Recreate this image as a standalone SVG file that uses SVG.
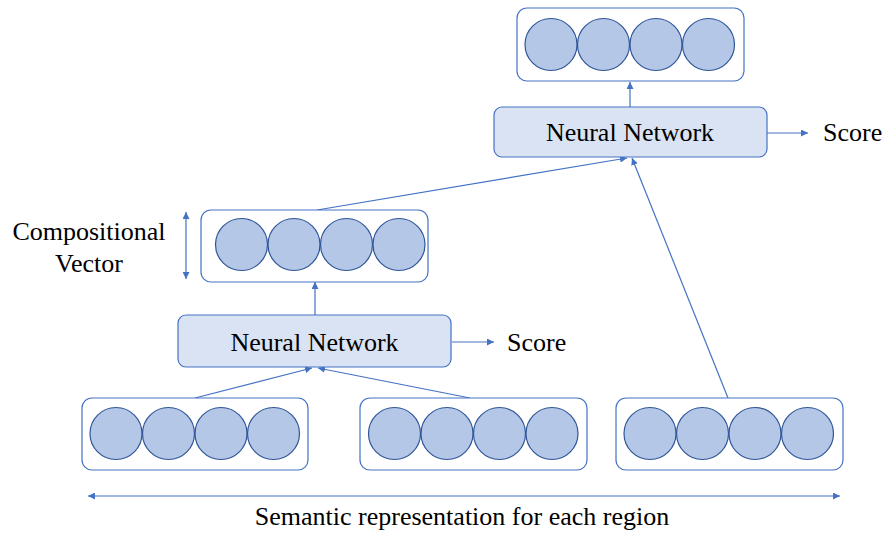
<svg xmlns="http://www.w3.org/2000/svg" width="886" height="535" viewBox="0 0 886 535">
<style>
.vec{fill:#fff;stroke:#4472c4;stroke-width:1.2}
.nn{fill:#dae3f3;stroke:#4472c4;stroke-width:1.2}
.c{fill:#b4c7e7;stroke:#2f5597;stroke-width:1.2}
.ln{stroke:#4472c4;stroke-width:1.2;fill:none}
.t{font-family:'Liberation Serif','DejaVu Serif',serif;font-size:26px;fill:#000}
</style>
<defs>
<marker id="ah" viewBox="0 0 10 10" refX="10" refY="5" markerWidth="7" markerHeight="7" markerUnits="userSpaceOnUse" orient="auto-start-reverse">
<path d="M0,0 L10,5 L0,10 z" fill="#4472c4"/>
</marker>
</defs>
<rect width="886" height="535" fill="#fff"/>
<g id="connectors">
<line class="ln" x1="630" y1="107" x2="630" y2="82" marker-end="url(#ah)"/>
<line class="ln" x1="767" y1="133" x2="808" y2="133" marker-end="url(#ah)"/>
<line class="ln" x1="315" y1="315" x2="315" y2="282" marker-end="url(#ah)"/>
<line class="ln" x1="452" y1="342" x2="494" y2="342" marker-end="url(#ah)"/>
<line class="ln" x1="195" y1="398" x2="312" y2="368" marker-end="url(#ah)"/>
<line class="ln" x1="470" y1="398" x2="318" y2="368" marker-end="url(#ah)"/>
<line class="ln" x1="317" y1="210" x2="627" y2="158" marker-end="url(#ah)"/>
<line class="ln" x1="728" y1="398" x2="632" y2="158" marker-end="url(#ah)"/>
<line class="ln" x1="186" y1="212" x2="186" y2="279" marker-start="url(#ah)" marker-end="url(#ah)"/>
<line class="ln" x1="88" y1="496" x2="840" y2="496" marker-start="url(#ah)" marker-end="url(#ah)"/>
</g>
<g id="top-vector">
<rect class="vec" x="517" y="8" width="227" height="73" rx="10"/>
<circle class="c" cx="551" cy="44.5" r="26"/>
<circle class="c" cx="603.5" cy="44.5" r="26"/>
<circle class="c" cx="656" cy="44.5" r="26"/>
<circle class="c" cx="708.5" cy="44.5" r="26"/>
</g>
<g id="top-nn">
<rect class="nn" x="494" y="107" width="273" height="50" rx="8"/>
<text class="t" x="630" y="141" text-anchor="middle">Neural Network</text>
</g>
<g id="top-score"><text class="t" x="823" y="141">Score</text></g>
<g id="comp-vector">
<rect class="vec" x="201" y="210" width="227" height="72" rx="10"/>
<circle class="c" cx="241.5" cy="244.5" r="26"/>
<circle class="c" cx="294" cy="244.5" r="26"/>
<circle class="c" cx="346.5" cy="244.5" r="26"/>
<circle class="c" cx="399" cy="244.5" r="26"/>
</g>
<g id="comp-label">
<text class="t" x="89" y="240" text-anchor="middle">Compositional</text>
<text class="t" x="89" y="272" text-anchor="middle">Vector</text>
</g>
<g id="low-nn">
<rect class="nn" x="178" y="315" width="273" height="52" rx="8"/>
<text class="t" x="314.5" y="351" text-anchor="middle">Neural Network</text>
</g>
<g id="low-score"><text class="t" x="507" y="351">Score</text></g>
<g id="region1">
<rect class="vec" x="82" y="398" width="226" height="72" rx="10"/>
<circle class="c" cx="116" cy="433.5" r="26"/>
<circle class="c" cx="168.5" cy="433.5" r="26"/>
<circle class="c" cx="221" cy="433.5" r="26"/>
<circle class="c" cx="273.5" cy="433.5" r="26"/>
</g>
<g id="region2">
<rect class="vec" x="360" y="398" width="227" height="72" rx="10"/>
<circle class="c" cx="394.5" cy="433.5" r="26"/>
<circle class="c" cx="447" cy="433.5" r="26"/>
<circle class="c" cx="499.5" cy="433.5" r="26"/>
<circle class="c" cx="552" cy="433.5" r="26"/>
</g>
<g id="region3">
<rect class="vec" x="616" y="398" width="227" height="72" rx="10"/>
<circle class="c" cx="650" cy="433.5" r="26"/>
<circle class="c" cx="702.5" cy="433.5" r="26"/>
<circle class="c" cx="755" cy="433.5" r="26"/>
<circle class="c" cx="807.5" cy="433.5" r="26"/>
</g>
<g id="bottom-label">
<text class="t" x="462" y="525" text-anchor="middle">Semantic representation for each region</text>
</g>
</svg>
